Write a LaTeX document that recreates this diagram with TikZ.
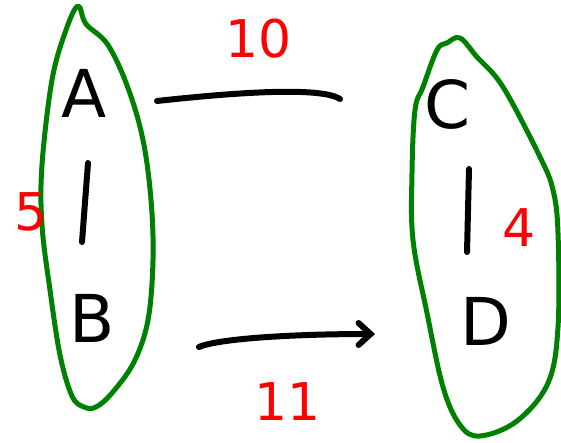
\documentclass[tikz,border=0pt]{standalone}
\usepackage{fontspec}
\setmainfont{DejaVu Sans}
\usetikzlibrary{arrows.meta}
\definecolor{hgreen}{RGB}{0,128,0}
\definecolor{hred}{RGB}{255,0,0}
\tikzset{
  letter/.style={font=\fontsize{66}{70}\selectfont, text=black, inner sep=0pt},
  weight/.style={font=\fontsize{52}{56}\selectfont, text=hred, inner sep=0pt},
  blob/.style={draw=hgreen, line width=5pt, line join=round},
  stroke/.style={draw=black, line width=6pt, line cap=round, line join=round},
}
\begin{document}
\begin{tikzpicture}[x=1pt,y=-1pt]
\useasboundingbox (0,0) rectangle (561,443);
% clusters
\draw[blob] plot[smooth cycle, tension=0.6] coordinates {(78,6) (86,24) (108,45) (128,88) (143,140) (151,200) (153,260) (148,320) (134,362) (112,393) (96,407) (84,407) (72,396) (60,355) (50,290) (42,225) (42,165) (52,80) (66,30)};
\draw[blob] plot[smooth cycle, tension=0.6] coordinates {(460,38) (477,57) (503,87) (540,157) (553,190) (558,233) (558,327) (548,383) (517,421) (480,436) (460,425) (443,387) (427,313) (413,240) (412,173) (415,110) (423,87) (437,50) (447,43)};
% nodes
\node[letter] (A) at (84,93) {A};
\node[letter] (B) at (92,318) {B};
\node[letter] (C) at (448,104) {C};
\node[letter] (D) at (486,321) {D};
% weights
\node[weight] (w5) at (31,212) {5};
\node[weight] (w10) at (259,39) {10};
\node[weight] (w11) at (288,402) {11};
\node[weight] (w4) at (519,228) {4};
% connectors inside clusters
\coordinate (ab1) at (88,163);
\coordinate (ab2) at (82,242);
\coordinate (cd1) at (469,169);
\coordinate (cd2) at (467,252);
\draw[stroke] (ab1) -- (ab2);
\draw[stroke] (cd1) -- (cd2);
% connectors between clusters
\coordinate (t1) at (157,101);
\coordinate (t2) at (340,99);
\coordinate (b1) at (199,347);
\coordinate (b2) at (375,334);
\draw[stroke] (t1) .. controls (230,93) and (320,86) .. (t2);
\draw[stroke, -{Straight Barb[length=12pt,width=22pt,line cap=round]}] (b1) .. controls (220,338) and (300,334) .. (b2);
\end{tikzpicture}
\end{document}
